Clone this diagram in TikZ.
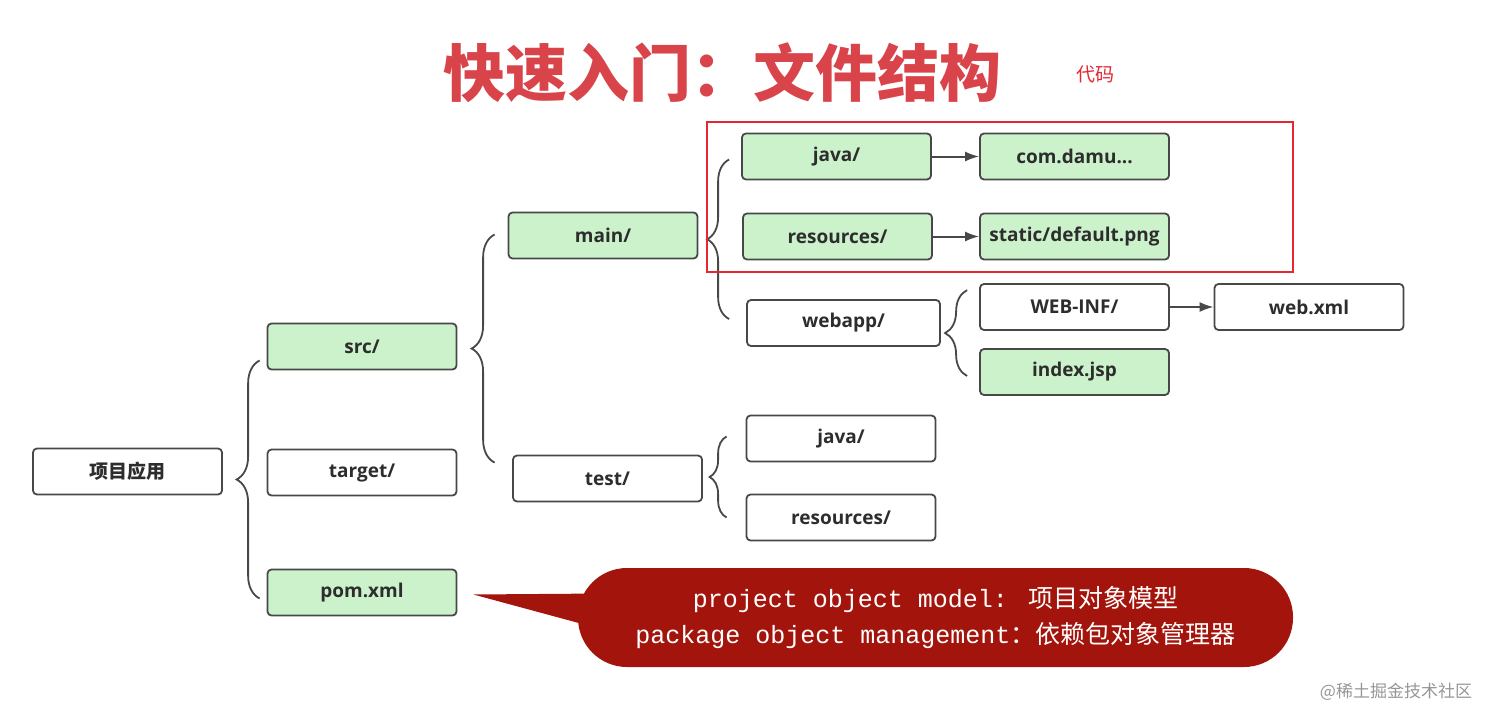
\documentclass[tikz,border=0pt]{standalone}
\usepackage{fontspec}
\setmainfont{Open Sans}
\newfontfamily\cjk{Noto Sans CJK SC}
\newfontfamily\mono{Liberation Mono}
\usetikzlibrary{decorations.pathreplacing,arrows.meta,calc}
\definecolor{boxline}{RGB}{72,72,72}
\definecolor{txt}{RGB}{45,45,45}
\definecolor{lgreen}{RGB}{204,242,204}
\definecolor{titlered}{RGB}{217,67,74}
\definecolor{callred}{RGB}{163,21,12}
\definecolor{frame}{RGB}{228,40,50}
\begin{document}
\begin{tikzpicture}[x=1pt,y=-1pt,
  box/.style={draw=boxline, line width=1.8pt, rounded corners=4pt, minimum width=189pt, minimum height=46pt, inner sep=0pt, font=\fontsize{19}{22}\selectfont\bfseries, text=txt, fill=white},
  gbox/.style={box, fill=lgreen},
  brc/.style={draw=boxline, line width=1.8pt, decorate, decoration={brace, amplitude=#1}},
  arr/.style={draw=boxline, line width=2pt, -{Latex[length=14pt,width=10pt]}}]
\useasboundingbox (0,0) rectangle (1500,725);
% title
\node[font=\cjk\bfseries\fontsize{62}{62}\selectfont, text=titlered] (title) at (722,73) {快速入门：文件结构};
\node[font=\cjk\fontsize{19}{19}\selectfont, text=frame] (code) at (1095,74) {代码};
% boxes
\node[box] (root) at (127.5,471.5) {\cjk\bfseries 项目应用};
\node[gbox] (src) at (362,346.5) {src/};
\node[box] (target) at (362,472.5) {target/};
\node[gbox] (pom) at (362,592.5) {pom.xml};
\node[gbox] (main) at (603,235.5) {main/};
\node[box] (test) at (607.5,478.5) {test/};
\node[gbox] (mjava) at (836.5,156.5) {java/};
\node[gbox] (com) at (1074.5,156.5) {com.damu...};
\node[gbox] (mres) at (837.5,236.5) {resources/};
\node[gbox] (static) at (1074.5,236.5) {static/default.png};
\node[box, minimum width=193pt] (webapp) at (843.5,323) {webapp/};
\node[box] (webinf) at (1074.5,307) {WEB-INF/};
\node[box] (webxml) at (1309,307) {web.xml};
\node[gbox] (index) at (1074.5,372) {index.jsp};
\node[box] (tjava) at (841,438.5) {java/};
\node[box] (tres) at (841,517.5) {resources/};
% braces
\draw[brc=23pt] ($(pom.west)+(-7,6)$) -- ($(src.west)+(-7,14)$);
\draw[brc=23pt] ($(main.west |- test.north)+(-13,8)$) -- ($(main.west)+(-13,-1)$);
\draw[brc=22pt] ($(mjava.west |- webapp.west)+(-12,-4)$) -- ($(mjava.west)+(-12,3)$);
\draw[brc=22pt] ($(index.west)+(-12,4)$) -- ($(webinf.north west)+(-12,7)$);
\draw[brc=17pt] ($(tres.west)+(-19,0)$) -- ($(tjava.west)+(-19,-2)$);
% arrows
\draw[arr] (mjava) -- (com);
\draw[arr] (mres) -- (static);
\draw[arr] (webinf) -- (webxml);
% red frame
\draw[frame, line width=1.8pt] (707,122) rectangle (1293,272);
% callout
\node[fill=callred, rounded corners=49pt, minimum width=715pt, minimum height=99pt, inner sep=0pt, text=white, align=center, font=\fontsize{25}{36}\selectfont] (call) at (935.5,617.5)
  {{\mono project object model: }{\cjk 项目对象模型}\\{\mono package object management}{\cjk ：依赖包对象管理器}};
\fill[callred] ([xshift=16pt,yshift=-2pt]pom.east) -- ($(call.west)+(25,-24)$) -- ($(call.west)+(25,12)$) -- cycle;
% watermark
\node[font=\cjk\fontsize{17}{17}\selectfont, text={rgb,255:red,150;green,150;blue,150}] (wm) at (1396,692) {@稀土掘金技术社区};
\end{tikzpicture}
\end{document}
